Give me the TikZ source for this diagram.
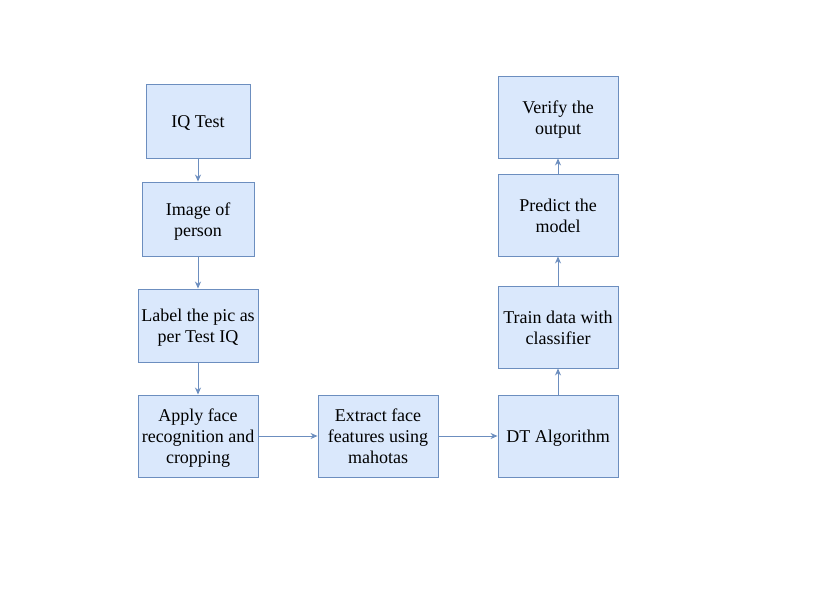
\documentclass[tikz,border=0pt]{standalone}
\usepackage{fontspec}
\setmainfont{Liberation Serif}
\usetikzlibrary{arrows.meta}
\definecolor{boxfill}{HTML}{DAE8FC}
\definecolor{boxline}{HTML}{6C8EBF}
\newcommand\bxt[1]{\raisebox{0pt}[\dimexpr\height+5.5pt\relax]{\begin{tabular}{@{}c@{}}#1\end{tabular}}}
\begin{document}
\begin{tikzpicture}[x=1pt,y=-1pt,
  box/.style={draw=boxline,fill=boxfill,line width=0.9pt,inner sep=0pt,
    font=\fontsize{18}{21}\selectfont},
  conn/.style={draw=boxline,line width=0.9pt,-{Stealth[length=7pt,width=6pt]}}]
\useasboundingbox (0,0) rectangle (824,607);
\node[box,minimum width=104pt,minimum height=74pt] (iq) at (198,121) {\bxt{IQ Test}};
\node[box,minimum width=112pt,minimum height=74pt] (img) at (198,219) {\bxt{Image of\\person}};
\node[box,minimum width=120pt,minimum height=73pt] (lbl) at (198,325.5) {\bxt{Label the pic as\\per Test IQ}};
\node[box,minimum width=120pt,minimum height=82pt] (app) at (198,436) {\bxt{Apply face\\recognition and\\cropping}};
\node[box,minimum width=120pt,minimum height=82pt] (ext) at (378,436) {\bxt{Extract face\\features using\\mahotas}};
\node[box,minimum width=120pt,minimum height=82pt] (dt) at (558,436) {\bxt{DT Algorithm}};
\node[box,minimum width=120pt,minimum height=82pt] (trn) at (558,327) {\bxt{Train data with\\classifier}};
\node[box,minimum width=120pt,minimum height=82pt] (prd) at (558,215) {\bxt{Predict the\\model}};
\node[box,minimum width=120pt,minimum height=82pt] (ver) at (558,117) {\bxt{Verify the\\output}};
\draw[conn] (iq) -- (img);
\draw[conn] (img) -- (lbl);
\draw[conn] (lbl) -- (app);
\draw[conn] (app) -- (ext);
\draw[conn] (ext) -- (dt);
\draw[conn] (dt) -- (trn);
\draw[conn] (trn) -- (prd);
\draw[conn] (prd) -- (ver);
\end{tikzpicture}
\end{document}
